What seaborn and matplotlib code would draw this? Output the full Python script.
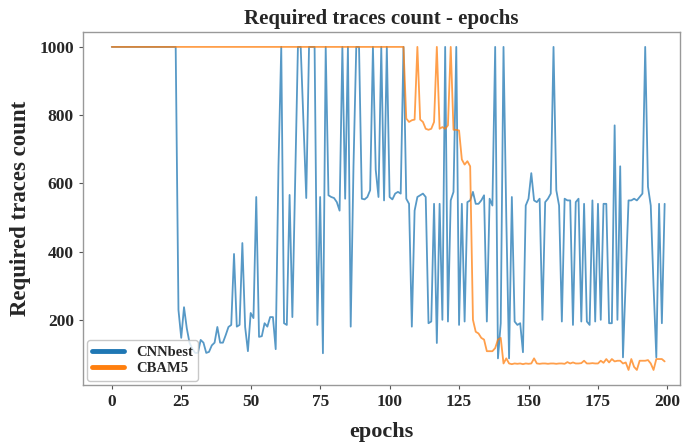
import numpy as np
import pandas as pd
import matplotlib
matplotlib.use("Agg")
import matplotlib.pyplot as plt
import seaborn as sns

# Valeurs (une valeur par epoch, 0..199)
epochs = list(range(200))

cnn_best = (
    [1000] * 24
    + [229, 147, 237, 175, 132, 115, 103, 103, 141, 133,
       103, 106, 125, 133, 179, 133, 133, 155, 179, 185,
       393, 180, 185, 425, 179, 108, 220, 205, 560, 150,
       152, 190, 180, 208, 208, 114, 650, 1000, 190, 185,
       566, 208, 600, 1000, 1000, 780, 557, 1000, 1000, 1000,
       185, 560, 102, 1000, 565, 560, 557, 545, 520, 1000,
       555, 1000, 180, 650, 1000, 1000, 555, 553, 560, 580,
       1000, 640, 560, 1000, 550, 1000, 560, 553, 570, 575,
       570, 1000, 555, 540, 180, 520, 560, 565, 570, 560,
       190, 195, 540, 132, 540, 200, 1000, 195, 550, 575,
       1000, 185, 540, 195, 545, 550, 575, 540, 540, 550,
       565, 195, 555, 535, 1000, 87, 190, 1000, 500, 87,
       560, 195, 185, 190, 105, 535, 555, 630, 550, 545,
       555, 200, 545, 555, 570, 1000, 580, 535, 195, 555,
       550, 550, 185, 545, 555, 195, 540, 195, 185, 550,
       195, 540, 200, 540, 540, 190, 190, 770, 200, 650,
       90, 320, 550, 550, 555, 550, 560, 570, 1000, 590,
       535, 300, 90, 540, 190, 540]
)

cbam5 = (
    [1000] * 106
    + [790, 780, 785, 787, 1000, 787, 780, 760, 757, 760,
       780, 1000, 760, 765, 760, 770, 1000, 757, 757, 755,
       670, 655, 665, 650, 200, 165, 160, 147, 142, 108,
       108, 108, 117, 142, 147, 72, 87, 72,
       70, 72, 71, 72, 70, 72, 71, 72, 87, 72,
       71, 72, 72, 71, 72, 72, 71, 72, 72, 71,
       76, 72, 75, 72, 72, 73, 80, 72, 72, 73,
       72, 72, 80, 74, 85, 75, 85, 78, 80, 80,
       72, 75, 53, 85, 62, 53, 80, 80, 80, 82,
       72, 53, 85, 85, 85, 78]
)

df = pd.DataFrame({"epochs": epochs, "CNNbest": cnn_best, "CBAM5": cbam5})

sns.set_style("white")
plt.rcParams['font.family'] = ['Liberation Serif', 'DejaVu Serif']
plt.rcParams['font.weight'] = 'bold'

fig = plt.figure(figsize=(6.85, 4.43), dpi=100)
ax = fig.add_axes([0.121, 0.131, 0.872, 0.797])

sns.lineplot(data=df, x="epochs", y="CNNbest", ax=ax, color="#1f77b4",
             linewidth=1.3, alpha=0.75, label="CNNbest")
sns.lineplot(data=df, x="epochs", y="CBAM5", ax=ax, color="#ff7f0e",
             linewidth=1.3, alpha=0.75, label="CBAM5")

ax.set_xlim(-10.4, 204.6)
ax.set_ylim(9, 1044)
ax.set_xticks([0, 25, 50, 75, 100, 125, 150, 175, 200])
ax.set_yticks([200, 400, 600, 800, 1000])
ax.tick_params(axis="both", labelsize=12.5, length=3, color="#555555",
               bottom=True, left=True)
for lab in ax.get_xticklabels() + ax.get_yticklabels():
    lab.set_fontweight("bold")

for s in ax.spines.values():
    s.set_color("#999999")
    s.set_linewidth(1.0)

ax.set_title("Required traces count - epochs", fontsize=15, fontweight="bold", pad=6)
ax.set_xlabel("epochs", fontsize=16, fontweight="bold", labelpad=9)
ax.set_ylabel("Required traces count", fontsize=16.5, fontweight="bold", labelpad=6)

leg = ax.legend(loc="lower left", prop={"weight": "bold", "size": 10.5},
                handlelength=2.2, frameon=True, fancybox=True,
                borderpad=0.35, labelspacing=0.25, borderaxespad=0.3)
leg.get_frame().set_edgecolor("#bbbbbb")
for line in leg.get_lines():
    line.set_linewidth(3.5)
    line.set_alpha(1)

fig.savefig("out.png", dpi=100)
